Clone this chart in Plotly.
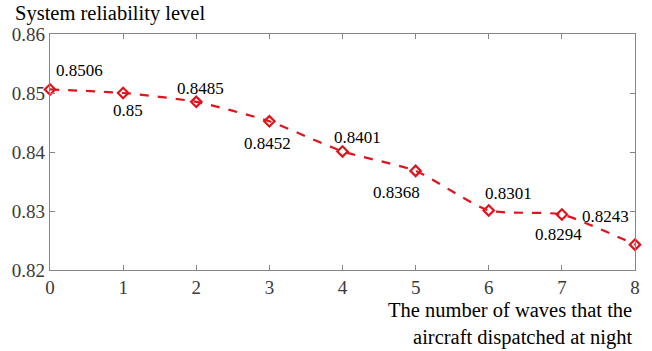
import plotly.graph_objects as go

waves = [0, 1, 2, 3, 4, 5, 6, 7, 8]
reliability = [0.8506, 0.85, 0.8485, 0.8452, 0.8401, 0.8368, 0.8301, 0.8294, 0.8243]
labels = ["0.8506", "0.85", "0.8485", "0.8452", "0.8401", "0.8368", "0.8301", "0.8294", "0.8243"]
# label pixel offsets (dx, dy up)
offsets = [(29, 19), (5, -17), (4, 13), (-2, -22), (15, 14), (-19, -22), (20, 17), (-3, -20), (-30, 28)]

red = "#e0141c"
font = "Liberation Serif"

fig = go.Figure()
fig.add_trace(go.Scatter(
    x=waves, y=reliability, mode="lines+markers",
    line=dict(color=red, width=2.2, dash="dash", shape="spline", smoothing=0.6),
    marker=dict(symbol="diamond-open", size=8, color=red, line=dict(width=2.2, color=red)),
    showlegend=False, cliponaxis=False,
))

for x, y, t, (dx, dy) in zip(waves, reliability, labels, offsets):
    fig.add_annotation(x=x, y=y, text=t, showarrow=False, xshift=dx, yshift=dy,
                       font=dict(family=font, size=17, color="black"))

fig.add_annotation(xref="paper", yref="paper", x=-0.062, y=1.14, xanchor="left", yanchor="top",
                   text="System reliability level", showarrow=False, borderpad=0,
                   font=dict(family=font, size=20.5, color="black"))
fig.add_annotation(xref="paper", yref="paper", x=1.0, y=-0.115, xanchor="right", yanchor="top",
                   align="right",
                   text="The number of waves that the<br>aircraft dispatched at night", showarrow=False,
                   font=dict(family=font, size=20.5, color="black"))

axis_common = dict(showline=True, linecolor="#858585", linewidth=1.3, mirror="allticks",
                   ticks="inside", ticklen=5, tickcolor="#858585", showgrid=False, zeroline=False,
                   tickfont=dict(family=font, size=19, color="#3a3a3a"))
fig.update_xaxes(range=[0, 8], tickvals=waves, **axis_common)
fig.update_yaxes(range=[0.82, 0.86], tickvals=[0.82, 0.83, 0.84, 0.85, 0.86],
                 ticktext=["0.82", "0.83", "0.84", "0.85", "0.86"], **axis_common)

fig.update_layout(width=652, height=351, margin=dict(l=50, r=17, t=34, b=81),
                  plot_bgcolor="white", paper_bgcolor="white")
fig.write_html("out.html", config={"displayModeBar": False},
               post_script="document.body.style.margin='0';document.body.style.overflow='hidden';")
